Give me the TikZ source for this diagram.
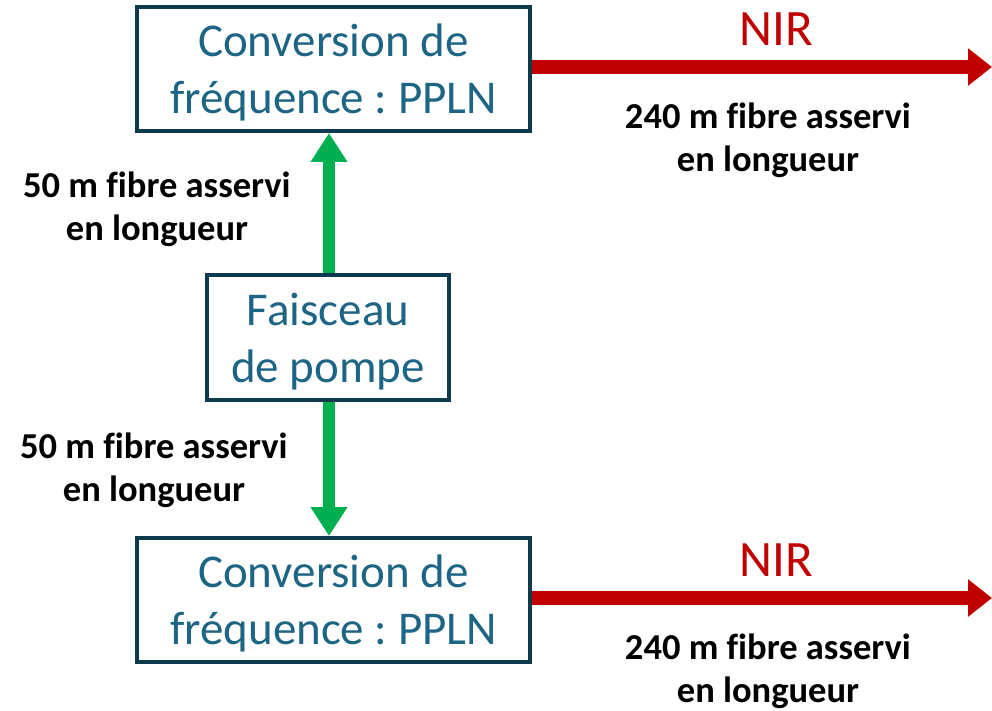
\documentclass[tikz,border=0pt]{standalone}
\usepackage{fontspec}
\setmainfont{Carlito}[Ligatures=CommonOff]
\usetikzlibrary{arrows.meta,positioning}
\definecolor{BoxInk}{HTML}{0D3A4D}
\definecolor{BoxText}{HTML}{1D6585}
\definecolor{PumpGreen}{HTML}{00B050}
\definecolor{NirRed}{HTML}{C00000}

\begin{document}
\begin{tikzpicture}[x=1pt,y=-1pt,
    stage/.style={
      draw=BoxInk,
      line width=4pt,
      fill=white,
      inner sep=0pt,
      text depth=0pt,
      align=center,
      text=BoxText,
      font=\fontsize{47}{57}\selectfont\frenchspacing
    },
    fibrelabel/.style={
      align=center,
      font=\fontsize{36.5}{43}\selectfont\bfseries
    },
    nirlabel/.style={
      anchor=base,
      text=NirRed,
      font=\fontsize{51}{60}\selectfont
    },
    pumpline/.style={
      draw=PumpGreen,
      line width=12pt,
      -{Triangle[width=35pt,length=29pt]}
    },
    nirline/.style={
      draw=NirRed,
      line width=14pt,
      -{Triangle[width=36pt,length=24pt]}
    }
  ]
  \useasboundingbox (0,0) rectangle (992,711);

  % boxes
  \node[stage, minimum width=393pt, minimum height=124pt] (convtop) at (333.5,69)
    {Conversion de\\fréquence : PPLN};
  \node[stage, minimum width=242pt, minimum height=125pt] (pump) at (328,337.5)
    {Faisceau\\de pompe};
  \node[stage, minimum width=393pt, minimum height=124pt] (convbot) at (333.5,600)
    {Conversion de\\fréquence : PPLN};

  % end points on the right
  \coordinate (outtop) at (992,67);
  \coordinate (outbot) at (992,598);

  % connectors
  \draw[pumpline] (pump.north -| 329,0) -- (convtop.south -| 329,0);
  \draw[pumpline] (pump.south -| 329,0) -- (convbot.north -| 329,0);
  \draw[nirline] (convtop.east |- outtop) -- (outtop);
  \draw[nirline] (convbot.east |- outbot) -- (outbot);

  % labels
  \node[nirlabel] (nirtop) at (776,46) {NIR};
  \node[nirlabel] (nirbot) at (776,576) {NIR};
  \node[fibrelabel] (fibretop) at (768,140) {240 m fibre asservi\\en longueur};
  \node[fibrelabel] (fibrebot) at (768,671) {240 m fibre asservi\\en longueur};
  \node[fibrelabel] (pumpup) at (157,209) {50 m fibre asservi\\en longueur};
  \node[fibrelabel] (pumpdown) at (154,470) {50 m fibre asservi\\en longueur};
\end{tikzpicture}
\end{document}
